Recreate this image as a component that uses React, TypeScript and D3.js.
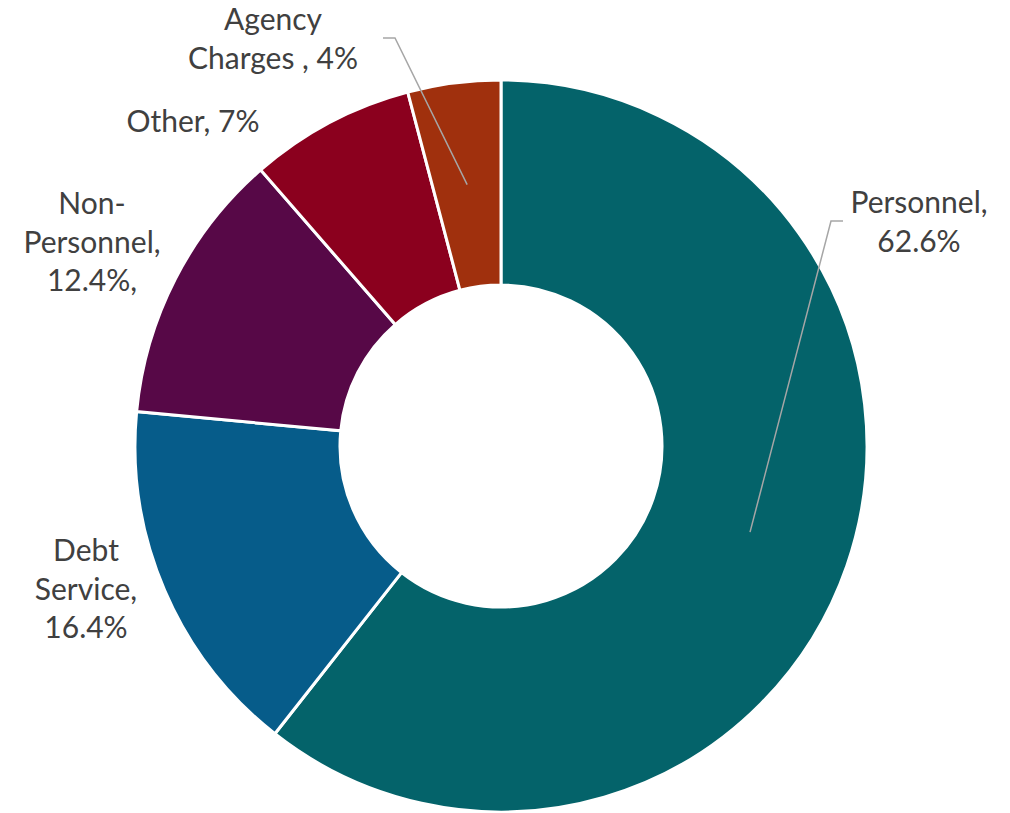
import { useMemo } from 'react'
import * as d3 from 'd3'

// Budget breakdown, clockwise from 12 o'clock
const categories = ['Personnel', 'Debt Service', 'Non-Personnel', 'Other', 'Agency Charges']
// slice sizes as drawn (in %)
const shares = [60.6, 15.9, 12.1, 7.3, 4.1]
// label text as it appears on the chart (line breaks included)
const labelLines = [
  ['Personnel,', '62.6%'],
  ['Debt', 'Service,', '16.4%'],
  ['Non-', 'Personnel,', '12.4%,'],
  ['Other, 7%'],
  ['Agency', 'Charges , 4%'],
]
const colors = ['#04636A', '#065C8A', '#570847', '#8B001E', '#A0300D']

// label placement (first baseline, centre x) and leader elbow, if any
const labelPos = [
  { x: 919, y: 213, leader: { x: 843, y: 221, dx: -12 } },
  { x: 86, y: 561, leader: null },
  { x: 92, y: 214, leader: null },
  { x: 193, y: 132, leader: null },
  { x: 273, y: 30, leader: { x: 383, y: 38, dx: 12 } },
]

const W = 1010
const H = 813
const cx = 501
const cy = 446
const outerR = 366
const innerR = 161
const lineH = 38.7

export default function App() {
  const arcs = useMemo(() => {
    const pie = d3.pie<number>().sort(null).value(d => d)
    return pie(shares)
  }, [])

  const arc = d3.arc<d3.PieArcDatum<number>>().innerRadius(innerR).outerRadius(outerR)

  return (
    <svg
      width={W}
      height={H}
      style={{ position: 'absolute', left: 0, top: 0, background: '#fff' }}
      fontFamily="Lato, 'Open Sans', sans-serif"
    >
      <g transform={`translate(${cx},${cy})`}>
        {arcs.map((a, i) => (
          <path key={categories[i]} d={arc(a) || ''} fill={colors[i]} stroke="#fff" strokeWidth={3} />
        ))}
      </g>
      {arcs.map((a, i) => {
        const l = labelPos[i].leader
        if (!l) return null
        const [mx, my] = arc.centroid(a)
        return (
          <polyline
            key={'leader-' + i}
            points={`${l.x},${l.y} ${l.x + l.dx},${l.y} ${cx + mx},${cy + my}`}
            fill="none"
            stroke="#A6A6A6"
            strokeWidth={1.5}
          />
        )
      })}
      {arcs.map((a, i) => {
        const p = labelPos[i]
        return (
          <text key={'label-' + i} x={p.x} y={p.y} textAnchor="middle" fontSize={30} fill="#404040">
            {labelLines[i].map((l, j) => (
              <tspan key={j} x={p.x} y={p.y + j * lineH}>
                {l}
              </tspan>
            ))}
          </text>
        )
      })}
    </svg>
  )
}
